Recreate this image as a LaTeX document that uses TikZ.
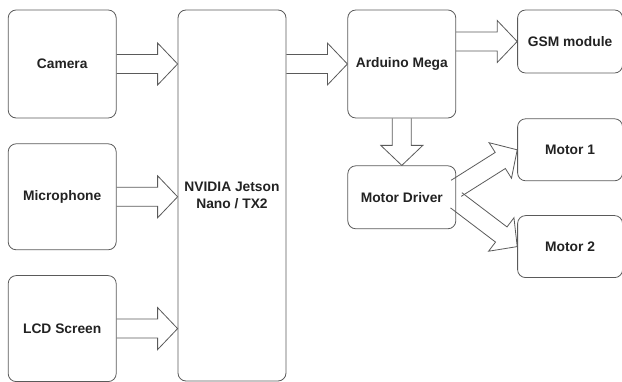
\documentclass[tikz,border=0pt]{standalone}
\usepackage{fontspec}
\setmainfont{Liberation Sans}
\usetikzlibrary{positioning, calc}
\definecolor{edgegray}{HTML}{5A5A5A}
\definecolor{textgray}{HTML}{222222}
\tikzset{
  box/.style={rectangle,draw=edgegray,line width=0.8pt,rounded corners=8pt,align=center,inner sep=2pt,
    minimum width=108pt,minimum height=108pt,text=textgray,font=\fontsize{13.8}{16.5}\selectfont\bfseries},
  smallbox/.style={box,minimum width=105pt,minimum height=62pt},
  fat/.style={draw=edgegray,line width=0.8pt,line join=miter}
}
\newcommand{\bigarrow}[2]{%
  \path (#1) coordinate (ba-s) (#2) coordinate (ba-e);
  \path ($(ba-e)!20pt!(ba-s)$) coordinate (ba-b);
  \draw[fat] ($(ba-s)!9.5pt!90:(ba-e)$) -- ($(ba-b)!9.5pt!90:(ba-e)$) -- ($(ba-b)!21pt!90:(ba-e)$) -- (ba-e)
    -- ($(ba-b)!21pt!-90:(ba-e)$) -- ($(ba-b)!9.5pt!-90:(ba-e)$) -- ($(ba-s)!9.5pt!-90:(ba-e)$);
}

\begin{document}
\begin{tikzpicture}
\useasboundingbox (0pt,0pt) rectangle (622pt,-382pt);
\node[box, minimum height=371pt] (jet) at (232pt,-195.5pt) {NVIDIA Jetson\\Nano / TX2};
\node[box, below left=0pt and 61pt of jet.north west] (cam) {Camera};
\node[box, minimum height=106pt, below=25pt of cam] (mic) {Microphone};
\node[box, minimum height=106pt, below=25pt of mic] (lcd) {LCD Screen};
\node[box, below right=0pt and 61pt of jet.north east] (ard) {Arduino Mega};
\node[smallbox, minimum height=63pt, below right=0pt and 61pt of ard.north east] (gsm) {GSM module};
\node[box, minimum height=63pt, below=47pt of ard] (drv) {Motor Driver};
\node[smallbox, below=45pt of gsm] (mot1) {Motor 1};
\node[smallbox, below=34pt of mot1] (mot2) {Motor 2};
\bigarrow{cam.east}{cam.east -| jet.west}
\bigarrow{mic.east}{mic.east -| jet.west}
\bigarrow{lcd.east}{lcd.east -| jet.west}
\bigarrow{jet.east |- ard.west}{ard.west}
\bigarrow{ard.east |- gsm.west}{gsm.west}
\bigarrow{ard.south}{drv.north}
\bigarrow{[yshift=9pt]drv.east}{mot1.west}
\bigarrow{[yshift=-3pt]drv.east}{mot2.west}
\end{tikzpicture}
\end{document}
